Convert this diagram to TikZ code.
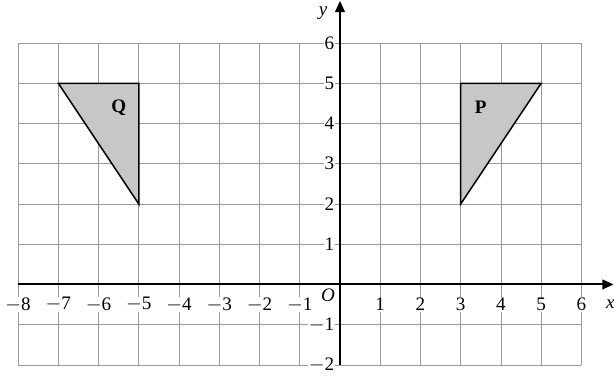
\documentclass[tikz,border=0pt]{standalone}
\usepackage{fontspec}
\setmainfont{Liberation Serif}
\usetikzlibrary{arrows.meta}

\begin{document}
\begin{tikzpicture}[
    font=\fontsize{13.5}{15}\selectfont,
    gridline/.style={draw=gray!80, line width=0.6pt},
    axis/.style={line width=1.4pt, -{Triangle[length=2.8mm, width=2.4mm]}},
    tri/.style={draw, fill=black!22, line width=1.1pt, line join=miter},
    tick/.style={fill=white, inner sep=0.5pt},
    trilabel/.style={font=\fontsize{13.5}{15}\selectfont\bfseries},
    axlabel/.style={font=\fontsize{13.5}{15}\selectfont\itshape, inner sep=0.5pt},
]
\useasboundingbox (-8.45,-2.33) rectangle (6.81,7.07);

% =====================  GRID  =====================
\draw[gridline] (-8,-2) grid (6,6);

% =====================  TRIANGLES  =====================
\draw[tri] (-7,5) -- (-5,5) -- (-5,2) -- cycle;
\draw[tri] (3,5) -- (5,5) -- (3,2) -- cycle;
\node[trilabel] (Q) at (-5.5,4.4) {Q};
\node[trilabel] (P) at (3.5,4.4) {P};

% =====================  AXES  =====================
\draw[axis] (-8,0) -- (6.8,0);
\draw[axis] (0,-2) -- (0,7.05);

\foreach \x in {-8,...,-1}
  \node[tick] (xn\x) at (\x,-0.5) {$-$\the\numexpr-\x\relax};
\foreach \x in {1,...,6}
  \node[tick] (xp\x) at (\x,-0.5) {\x};
\foreach \y in {1,...,6}
  \node[tick, anchor=east] (yp\y) at (-0.12,\y) {\y};
\foreach \y in {1,2}
  \node[tick, anchor=east] (yn\y) at (-0.12,-\y) {$-$\y};

\node[axlabel] (xlab) at (6.72,-0.5) {x};
\node[axlabel] (ylab) at (-0.42,6.75) {y};
\node[axlabel] (O) at (-0.3,-0.27) {O};

\end{tikzpicture}
\end{document}
